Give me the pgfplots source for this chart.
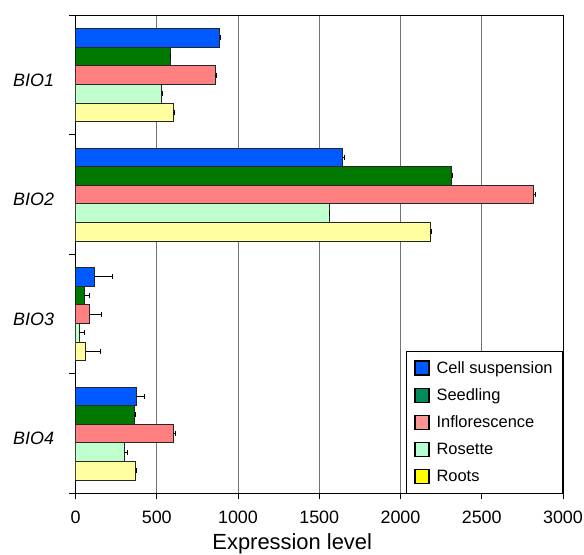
\documentclass[border=0pt]{standalone}
\usepackage{pgfplots}
\pgfplotsset{compat=1.18}
\usepackage{fontspec}
\setmainfont{Liberation Sans}
\definecolor{bBlue}{RGB}{0,90,255}
\definecolor{bGreen}{RGB}{0,120,0}
\definecolor{bPink}{RGB}{255,128,128}
\definecolor{bMint}{RGB}{190,255,205}
\definecolor{bYellow}{RGB}{255,255,160}
\definecolor{lBlue}{RGB}{0,90,255}
\definecolor{lGreen}{RGB}{0,140,90}
\definecolor{lPink}{RGB}{255,150,150}
\definecolor{lMint}{RGB}{180,255,210}
\definecolor{lYellow}{RGB}{255,255,0}
\pgfplotsset{
  sq/.style={legend image code/.code={\draw[##1] (0bp,-7bp) rectangle (14bp,7bp);}},
  barsty/.style={fill=#1, draw=black!85, line width=0.7pt,
    error bars/x dir=plus, error bars/x explicit,
    error bars/error mark=|,
    error bars/error bar style={black, line width=0.9pt},
    error bars/error mark options={black, mark size=2.5bp, line width=0.9pt}},
}
\begin{document}
\begin{tikzpicture}
\path[use as bounding box] (-75.5bp,-61.7bp) rectangle (508.5bp,493.3bp);
\begin{axis}[
  width=487.5bp, height=478bp, scale only axis,
  xbar, bar width=0.1555,
  xmin=0, xmax=3000, ymin=0.5, ymax=4.5, y dir=reverse,
  xtick={0,500,...,3000},
  xmajorgrids=true,
  major grid style={black!55, line width=0.7pt},
  ytick={0.5,1.5,2.5,3.5,4.5}, yticklabels={},
  extra y ticks={1,2,3,4},
  extra y tick labels={\textit{BIO1},\textit{BIO2},\textit{BIO3},\textit{BIO4}},
  extra y tick style={major tick length=0pt, yticklabel style={yshift=-5bp, xshift=-18bp}},
  tick align=outside, xtick pos=left, ytick pos=left,
  major tick length=6bp,
  axis line style={black, line width=0.8pt},
  tick style={black, line width=0.8pt},
  ticklabel style={font=\fontsize{18}{20}\selectfont},
  xticklabel style={yshift=-8bp},
  /pgf/number format/assume math mode=true,
  /pgf/number format/1000 sep={},
  xlabel={Expression level},
  xlabel style={font=\fontsize{22}{24}\selectfont, xshift=-27bp, yshift=-3bp},
  legend style={at={(1,0)}, anchor=south east, draw=black, line width=0.8pt,
    font=\fontsize{16.5}{19}\selectfont, row sep=10bp, inner xsep=8bp, inner ysep=8bp,
    /tikz/every odd column/.append style={column sep=5bp}},
  legend cell align=left,
]
\addplot+[barsty=bBlue, bar shift=-0.311, forget plot] coordinates {
  (883,1) +- (10,0) (1642,2) +- (16,0) (116,3) +- (110,0) (376,4) +- (48,0)};
\addplot+[barsty=bGreen, bar shift=-0.1555, forget plot] coordinates {
  (582,1) +- (3,0) (2315,2) +- (2,0) (54,3) +- (31,0) (362,4) +- (8,0)};
\addplot+[barsty=bPink, bar shift=0, forget plot] coordinates {
  (858,1) +- (8,0) (2820,2) +- (10,0) (85,3) +- (74,0) (602,4) +- (16,0)};
\addplot+[barsty=bMint, bar shift=0.1555, forget plot] coordinates {
  (530,1) +- (5,0) (1560,2) +- (2,0) (22,3) +- (32,0) (300,4) +- (20,0)};
\addplot+[barsty=bYellow, bar shift=0.311, forget plot] coordinates {
  (602,1) +- (8,0) (2182,2) +- (10,0) (63,3) +- (88,0) (370,4) +- (6,0)};
\addlegendimage{sq, fill=lBlue, draw=black, line width=1.3pt}
\addlegendentry{Cell suspension}
\addlegendimage{sq, fill=lGreen, draw=black, line width=1.3pt}
\addlegendentry{Seedling}
\addlegendimage{sq, fill=lPink, draw=black, line width=1.3pt}
\addlegendentry{Inflorescence}
\addlegendimage{sq, fill=lMint, draw=black, line width=1.3pt}
\addlegendentry{Rosette}
\addlegendimage{sq, fill=lYellow, draw=black, line width=1.3pt}
\addlegendentry{Roots}
\end{axis}
\end{tikzpicture}
\end{document}
